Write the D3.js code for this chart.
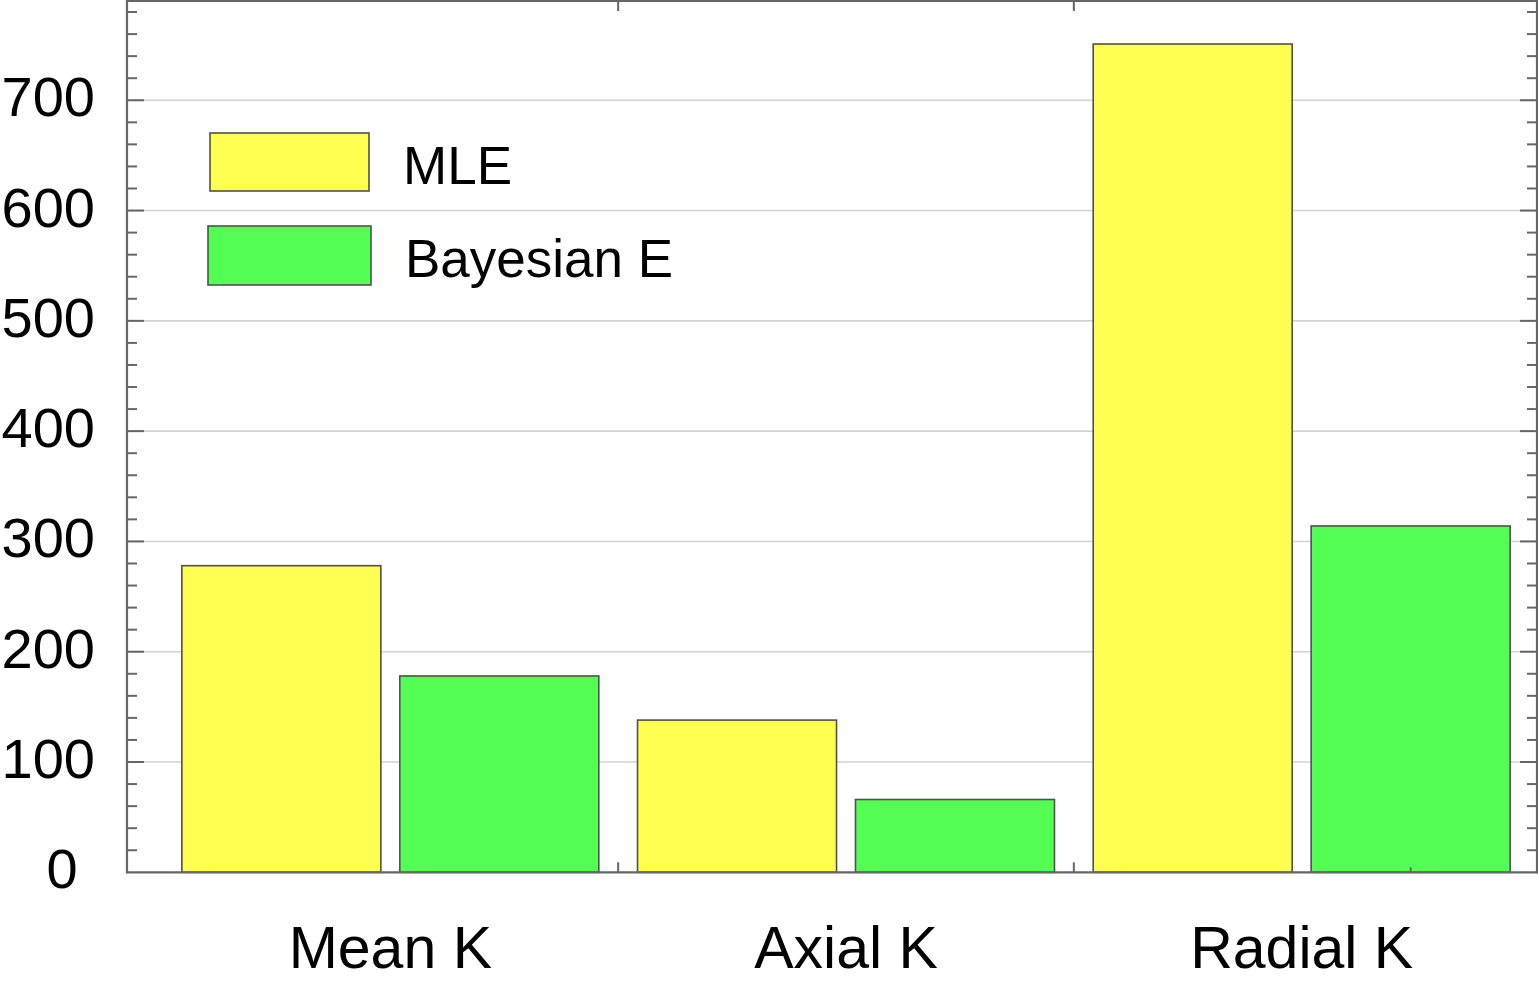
<!DOCTYPE html>
<html>
<head>
<meta charset="utf-8">
<script src="https://cdn.jsdelivr.net/npm/d3@7/dist/d3.min.js"></script>
<style>
  html, body { margin: 0; padding: 0; background: #fff; }
  svg { display: block; }
  text { font-family: "Liberation Sans", Arial, sans-serif; fill: #000; }
</style>
</head>
<body>
<svg id="chart" width="1538" height="989"></svg>
<script>
// ---- data ----
const categories = ["Mean K", "Axial K", "Radial K"];
const seriesNames = ["MLE", "Bayesian E"];
const mleValues = [278, 138, 751];
const bayesValues = [178, 66, 314];
const yTickValues = [0, 100, 200, 300, 400, 500, 600, 700];
const yMinorStep = 20;
const yMax = 790;

(function () {
// ---- layout ----
const plotLeft = 127, plotRight = 1537, plotTop = 1, plotBottom = 872.3;
const colors = ["#ffff52", "#54ff54"];
const frameColor = "#666666";

const svg = d3.select("#chart");

const x = d3.scaleBand()
  .domain(categories)
  .range([162.5, 1529.5])
  .paddingInner(0.085)
  .paddingOuter(0.0425);

const xInner = d3.scaleBand()
  .domain(seriesNames)
  .range([0, x.bandwidth()])
  .paddingInner(0.087);

const y = d3.scaleLinear().domain([0, yMax]).range([plotBottom, plotTop]);

const rows = categories.map((c, i) => ({ cat: c, values: [mleValues[i], bayesValues[i]] }));

// grid lines
svg.append("g").selectAll("line")
  .data(yTickValues.filter(v => v > 0))
  .join("line")
  .attr("x1", plotLeft).attr("x2", plotRight)
  .attr("y1", d => y(d)).attr("y2", d => y(d))
  .attr("stroke", "#d2d2d2").attr("stroke-width", 1.6);

// bars
const groups = svg.append("g").selectAll("g")
  .data(rows)
  .join("g")
  .attr("transform", d => `translate(${x(d.cat)},0)`);

groups.selectAll("rect")
  .data(d => d.values.map((v, j) => ({ name: seriesNames[j], v, j })))
  .join("rect")
  .attr("x", d => xInner(d.name))
  .attr("width", xInner.bandwidth())
  .attr("y", d => y(d.v))
  .attr("height", d => y(0) - y(d.v))
  .attr("fill", d => colors[d.j])
  .attr("stroke", "#505050")
  .attr("stroke-width", 1.6);

// frame
const frame = svg.append("g").attr("stroke", frameColor).attr("stroke-width", 2.2);
frame.append("line").attr("x1", plotLeft).attr("x2", plotLeft).attr("y1", 0).attr("y2", plotBottom + 1);
frame.append("line").attr("x1", plotRight).attr("x2", plotRight).attr("y1", 0).attr("y2", plotBottom + 1);
frame.append("line").attr("x1", plotLeft - 1).attr("x2", plotRight + 1).attr("y1", plotTop).attr("y2", plotTop);
frame.append("line").attr("x1", plotLeft - 1).attr("x2", plotRight + 1).attr("y1", plotBottom).attr("y2", plotBottom);

// y ticks (left and right, inward)
const allTicks = d3.range(yMinorStep, yMax, yMinorStep);
const tickG = svg.append("g").attr("stroke", frameColor).attr("stroke-width", 2);
allTicks.forEach(v => {
  const major = v % 100 === 0;
  const len = major ? 17 : 10;
  tickG.append("line").attr("x1", plotLeft).attr("x2", plotLeft + len).attr("y1", y(v)).attr("y2", y(v));
  tickG.append("line").attr("x1", plotRight).attr("x2", plotRight - len).attr("y1", y(v)).attr("y2", y(v));
});

// x divider ticks (between groups), top and bottom
const step = x.step();
const dividers = categories.slice(1).map(c => x(c) - x.paddingInner() * step / 2);
dividers.forEach(px => {
  tickG.append("line").attr("x1", px).attr("x2", px).attr("y1", plotBottom).attr("y2", plotBottom - 10);
  tickG.append("line").attr("x1", px).attr("x2", px).attr("y1", plotTop).attr("y2", plotTop + 10);
});
// small tick at centre of last bar
{
  const lastCat = categories[categories.length - 1];
  const px = x(lastCat) + xInner(seriesNames[1]) + xInner.bandwidth() / 2;
  tickG.append("line").attr("x1", px).attr("x2", px).attr("y1", plotBottom).attr("y2", plotBottom - 5);
}

// y labels
svg.append("g").selectAll("text")
  .data(yTickValues)
  .join("text")
  .attr("x", d => d === 0 ? 62 : 95)
  .attr("y", d => y(d) + 16)
  .attr("text-anchor", d => d === 0 ? "middle" : "end")
  .attr("font-size", 56)
  .text(d => d);

// category labels
svg.append("g").selectAll("text")
  .data(categories)
  .join("text")
  .attr("x", d => x(d) + x.bandwidth() / 2)
  .attr("y", 968)
  .attr("text-anchor", "middle")
  .attr("font-size", 59)
  .text(d => d);

// legend
const legendItems = [
  { name: seriesNames[0], color: colors[0], bx: 210, by: 133, bw: 159, bh: 58, tx: 403, ty: 184 },
  { name: seriesNames[1], color: colors[1], bx: 208, by: 226, bw: 163, bh: 59, tx: 405, ty: 277 }
];
const lg = svg.append("g");
legendItems.forEach(it => {
  lg.append("rect").attr("x", it.bx).attr("y", it.by).attr("width", it.bw).attr("height", it.bh)
    .attr("fill", it.color).attr("stroke", "#505050").attr("stroke-width", 1.6);
  lg.append("text").attr("x", it.tx).attr("y", it.ty).attr("font-size", 53).text(it.name);
});
})();
</script>
</body>
</html>
